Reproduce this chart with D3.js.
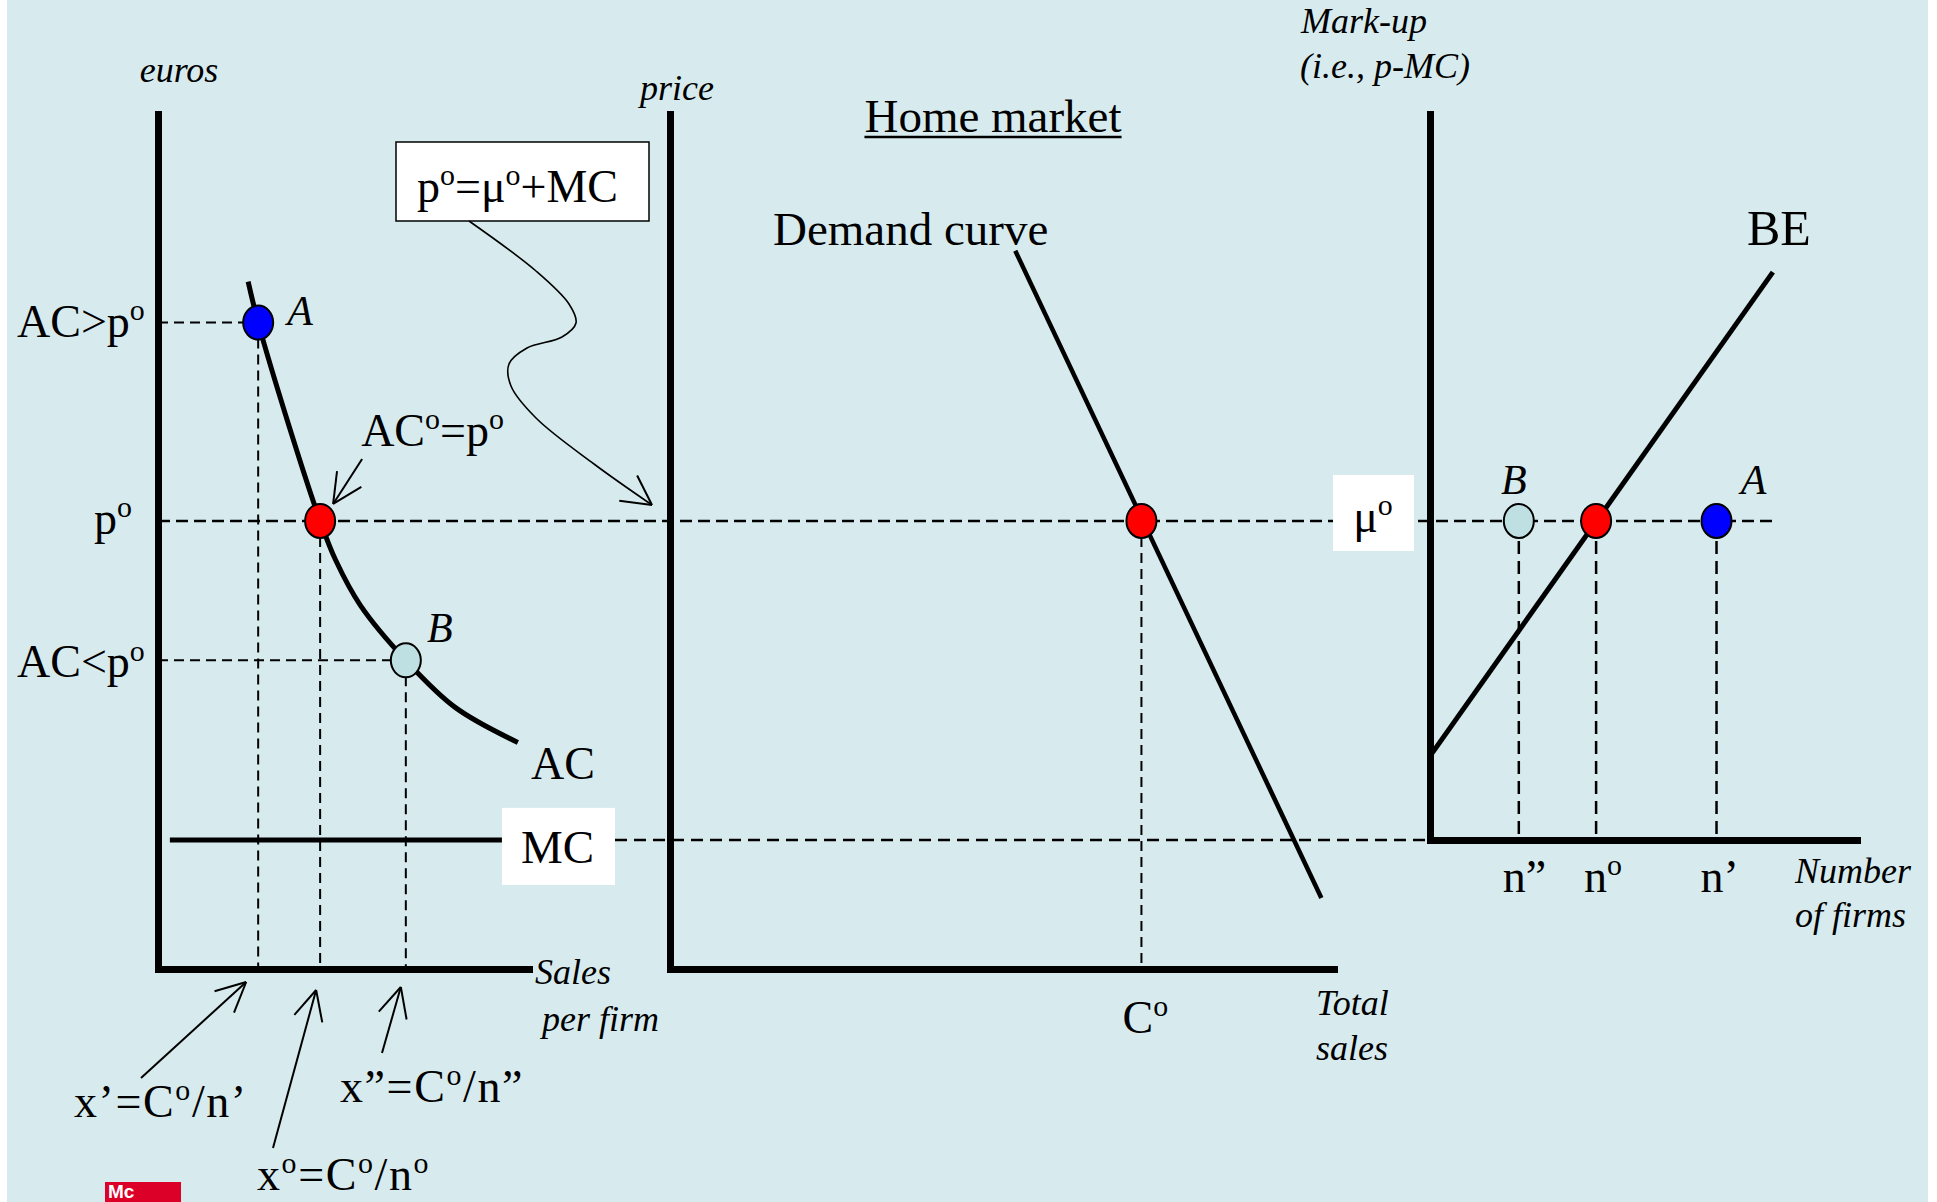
<!DOCTYPE html>
<html>
<head>
<meta charset="utf-8">
<script src="https://cdn.jsdelivr.net/npm/d3@7"></script>
<style>
  html, body { margin: 0; padding: 0; background: #fff; overflow: hidden; }
  svg text { font-family: "Liberation Serif", "Times New Roman", serif; }
</style>
</head>
<body>
<svg id="chart" width="1937" height="1202"></svg>
<script>
// values, every axis runs 0..100 in its own units
const P0 = 52.4;                       // market price = AC at the equilibrium
const MC = 15.1;                       // marginal cost
const firmSales = [27.0, 43.7, 66.8];  // x', x°, x''  (sales per firm)
const firmAC    = [75.6, 52.4, 36.1];  // AC at A, AC°, AC at B
const acCurve   = [[24.3, 80.4], [27.0, 75.6], [35.4, 63.4], [43.7, 52.4], [47.9, 47.8],
                   [54.6, 42.5], [66.8, 36.1], [80.1, 30.6], [97.0, 26.5]];
const mcSpan    = [3.2, 92.7];
const demand    = [[52.0, 84.0], [98.1, 8.3]];
const C0        = 71.0;                // total sales at p°
const firmCounts = [20.8, 38.9, 67.1]; // n'', n°, n'
const firmTicks  = ['n”', 'n^o', 'n’'];
const beLine    = [[0, 9.8], [80.3, 66.4]];
const muEnd     = 81.3;
const MU0 = P0 - MC;

const svg = d3.select('#chart');
const W = 1937, H = 1202;

svg.append('rect').attr('x', 7).attr('y', 0).attr('width', 1921).attr('height', H).attr('fill', '#d7ebee');

// scales
const yP = d3.scaleLinear().domain([0, 100]).range([969, 114]);
const x1 = d3.scaleLinear().domain([0, 100]).range([158, 529]);
const x2 = d3.scaleLinear().domain([0, 100]).range([670, 1334]);
const x3 = d3.scaleLinear().domain([0, 100]).range([1430, 1857]);
const yM = d3.scaleLinear().domain([0, 100 - MC]).range([yP(MC), yP(100)]);

// helpers
function dashed(g, ax, ay, bx, by, w, dash) {
  g.append('line').attr('x1', ax).attr('y1', ay).attr('x2', bx).attr('y2', by)
    .attr('stroke', '#000').attr('stroke-width', w).attr('stroke-dasharray', dash);
}

function label(g, x, y, str, size, opts) {
  opts = opts || {};
  const t = g.append('text').attr('x', x).attr('y', y).attr('font-size', size).attr('fill', '#000');
  if (opts.italic) t.attr('font-style', 'italic');
  if (opts.anchor) t.attr('text-anchor', opts.anchor);
  if (opts.spacing) t.attr('letter-spacing', opts.spacing);
  let up = false;
  str.split(/(\^o)/).filter(s => s).forEach(s => {
    if (s === '^o') {
      t.append('tspan').attr('font-size', size * 0.65).attr('dy', -size * 0.36).text('o');
      up = true;
    } else {
      const sp = t.append('tspan').text(s);
      if (up) { sp.attr('dy', size * 0.36); up = false; }
    }
  });
  return t;
}

function arrowHead(g, from, tip, len, ang) {
  const a = Math.atan2(from[1] - tip[1], from[0] - tip[0]);
  [-ang, ang].forEach(d => {
    g.append('line').attr('x1', tip[0]).attr('y1', tip[1])
      .attr('x2', tip[0] + len * Math.cos(a + d)).attr('y2', tip[1] + len * Math.sin(a + d))
      .attr('stroke', '#000').attr('stroke-width', 2);
  });
}

function arrow(g, from, tip) {
  g.append('line').attr('x1', from[0]).attr('y1', from[1]).attr('x2', tip[0]).attr('y2', tip[1])
    .attr('stroke', '#000').attr('stroke-width', 2);
  arrowHead(g, from, tip, 33, 26 * Math.PI / 180);
}

const guides = svg.append('g');
const marks = svg.append('g');
const dots = svg.append('g');
const texts = svg.append('g');

// dashed guide lines
dashed(guides, x1(0), yP(P0), x3(muEnd), yP(P0), 2.5, '12,6');
dashed(guides, x1(0), yP(firmAC[0]), x1(firmSales[0]), yP(firmAC[0]), 2, '10,6');
dashed(guides, x1(0), yP(firmAC[2]), x1(firmSales[2]), yP(firmAC[2]), 2, '10,6');
firmSales.forEach((s, i) => dashed(guides, x1(s), yP(firmAC[i]), x1(s), yP(0), 2, '10,6'));
dashed(guides, x2(C0), yP(P0), x2(C0), yP(0), 2, '10,6');
dashed(guides, x1(100) + 86, yP(MC), x3(0), yP(MC), 2.5, '12,7');
firmCounts.forEach(n => dashed(guides, x3(n), yM(MU0), x3(n), yM(0), 2.5, '13,7'));

// axes
function axisPair(yScale, xScale, x0, yBase) {
  const gy = marks.append('g').attr('transform', 'translate(' + x0 + ',0)')
    .call(d3.axisLeft(yScale).tickValues([]).tickSizeOuter(0));
  const gx = marks.append('g').attr('transform', 'translate(0,' + yBase + ')')
    .call(d3.axisBottom(xScale).tickValues([]).tickSizeOuter(0));
  [gy, gx].forEach(g => g.select('.domain').attr('stroke', '#000')
    .attr('stroke-width', 7).attr('stroke-linecap', 'square'));
}
axisPair(yP, x1, x1(0), yP(0));
axisPair(yP, x2, x2(0), yP(0));
axisPair(yM, x3, x3(0), yM(0));

// curves
const line1 = d3.line().x(d => x1(d[0])).y(d => yP(d[1])).curve(d3.curveCatmullRom);
marks.append('path').attr('d', line1(acCurve)).attr('fill', 'none')
  .attr('stroke', '#000').attr('stroke-width', 5);
marks.append('line').attr('x1', x1(mcSpan[0])).attr('x2', x1(mcSpan[1]))
  .attr('y1', yP(MC)).attr('y2', yP(MC)).attr('stroke', '#000').attr('stroke-width', 5);
const line2 = d3.line().x(d => x2(d[0])).y(d => yP(d[1]));
marks.append('path').attr('d', line2(demand)).attr('fill', 'none')
  .attr('stroke', '#000').attr('stroke-width', 4.5);
const line3 = d3.line().x(d => x3(d[0])).y(d => yM(d[1]));
marks.append('path').attr('d', line3(beLine)).attr('fill', 'none')
  .attr('stroke', '#000').attr('stroke-width', 5);

// dots
const blue = '#0000ff', red = '#ff0000', pale = '#bfe0e3';
function dot(cx, cy, fill) {
  dots.append('ellipse').attr('cx', cx).attr('cy', cy).attr('rx', 15).attr('ry', 17)
    .attr('fill', fill).attr('stroke', '#000').attr('stroke-width', 2);
}
[blue, red, pale].forEach((c, i) => dot(x1(firmSales[i]), yP(firmAC[i]), c));
dot(x2(C0), yP(P0), red);
[pale, red, blue].forEach((c, i) => dot(x3(firmCounts[i]), yM(MU0), c));

// white boxes
texts.append('rect').attr('x', x1(100) - 27).attr('y', yP(MC) - 32).attr('width', 113).attr('height', 77).attr('fill', '#fff');
label(texts, x1(100) - 8, yP(MC) + 23, 'MC', 47);
texts.append('rect').attr('x', x3(0) - 97).attr('y', yP(P0) - 46).attr('width', 81).attr('height', 76).attr('fill', '#fff');
label(texts, x3(0) - 57, yP(P0) + 11, 'μ^o', 46, {anchor: 'middle'});

const box = {x: 396, y: 142, w: 253, h: 79};
texts.append('rect').attr('x', box.x).attr('y', box.y).attr('width', box.w).attr('height', box.h)
  .attr('fill', '#fff').attr('stroke', '#000').attr('stroke-width', 1.5);
label(texts, box.x + 21, box.y + 60, 'p^o=μ^o+MC', 46);

// wavy connector from the box to the price axis
const tip = [x2(0) - 18, yP(P0) - 16];
const start = [box.x + 73, box.y + box.h];
const wave = [start, [536, 271], [569, 304], [576, 323], [562, 337], [527, 348], [509, 364],
              [511, 386], [536, 418], [594, 464], tip];
texts.append('path').attr('d', d3.line().curve(d3.curveCatmullRom)(wave))
  .attr('fill', 'none').attr('stroke', '#000').attr('stroke-width', 1.6);
arrowHead(texts, wave[wave.length - 2], tip, 33, 28 * Math.PI / 180);

// axis titles
label(texts, 179, 82, 'euros', 36, {italic: true, anchor: 'middle'});
label(texts, 677, 100, 'price', 36, {italic: true, anchor: 'middle'});
label(texts, 1301, 33, 'Mark-up', 36, {italic: true});
label(texts, 1300, 78, '(i.e., p-MC)', 36, {italic: true});
label(texts, x1(100) + 6, 984, 'Sales', 36, {italic: true});
label(texts, x1(100) + 13, 1031, 'per firm', 36, {italic: true});
label(texts, x2(100) - 18, 1015, 'Total', 36, {italic: true});
label(texts, x2(100) - 18, 1060, 'sales', 36, {italic: true});
label(texts, 1795, 883, 'Number', 36, {italic: true});
label(texts, 1795, 927, 'of firms', 36, {italic: true});

const hm = label(texts, 993, 132, 'Home market', 47, {anchor: 'middle'});
const hw = hm.node().getComputedTextLength();
texts.append('line').attr('x1', 993 - hw / 2).attr('x2', 993 + hw / 2).attr('y1', 137).attr('y2', 137)
  .attr('stroke', '#000').attr('stroke-width', 2.5);

label(texts, 773, 245, 'Demand curve', 47);
label(texts, 1747, 245, 'BE', 50);
label(texts, x1(100) + 2, 779, 'AC', 46);

// y-axis levels, left panel
label(texts, 17, yP(firmAC[0]) + 14, 'AC>p^o', 46);
label(texts, 94, yP(P0) + 13, 'p^o', 46);
label(texts, 17, yP(firmAC[2]) + 17, 'AC<p^o', 46);

// point letters
label(texts, x1(firmSales[0]) + 42, yP(firmAC[0]) + 2, 'A', 42, {italic: true, anchor: 'middle'});
label(texts, x1(firmSales[2]) + 34, yP(firmAC[2]) - 18, 'B', 42, {italic: true, anchor: 'middle'});
label(texts, x3(firmCounts[0]) - 5, yM(MU0) - 27, 'B', 42, {italic: true, anchor: 'middle'});
label(texts, x3(firmCounts[2]) + 37, yM(MU0) - 27, 'A', 42, {italic: true, anchor: 'middle'});

// AC°=p° pointer
const rd = [x1(firmSales[1]), yP(firmAC[1])];
label(texts, rd[0] + 41, rd[1] - 75, 'AC^o=p^o', 46);
arrow(texts, [rd[0] + 42, rd[1] - 62], [rd[0] + 13, rd[1] - 17]);

// x ticks (panels 2 and 3)
label(texts, x2(C0) - 19, 1033, 'C^o', 46);
firmCounts.forEach((n, i) => label(texts, x3(n) - 20 + (i === 1 ? 8 : 4), 892, firmTicks[i], 46));

// sales per firm pointers
const base = yP(0);
arrow(texts, [141, 1078], [x1(firmSales[0]) - 12, base + 13]);
arrow(texts, [273, 1148], [x1(firmSales[1]) - 4, base + 21]);
arrow(texts, [382, 1053], [x1(firmSales[2]) - 5, base + 18]);
label(texts, 74, 1117, 'x’=C^o/n’', 46, {spacing: 1.6});
label(texts, 340, 1102, 'x”=C^o/n”', 46, {spacing: 1.6});
label(texts, 257, 1190, 'x^o=C^o/n^o', 46, {spacing: 1.6});

// logo corner
svg.append('rect').attr('x', 105).attr('y', 1182).attr('width', 76).attr('height', 20).attr('fill', '#dc0028');
svg.append('text').attr('x', 108).attr('y', 1198).attr('font-size', 19).attr('font-weight', 'bold')
  .style('font-family', '"Liberation Sans", Arial, sans-serif').style('fill', '#fff').text('Mc');
</script>
</body>
</html>
